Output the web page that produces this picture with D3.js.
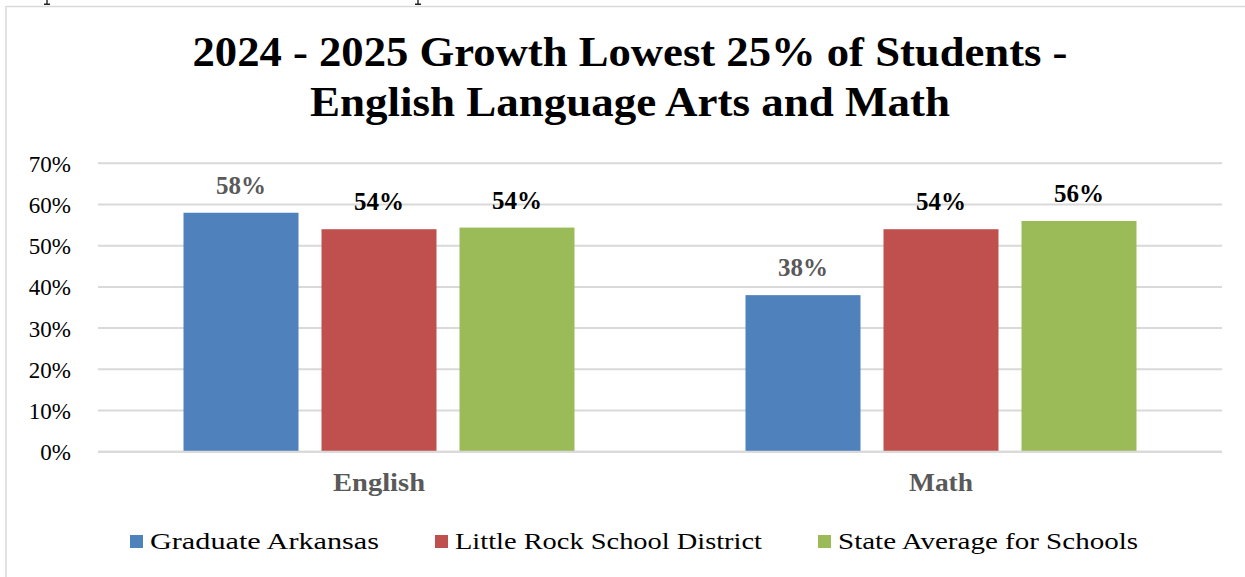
<!DOCTYPE html>
<html>
<head>
<meta charset="utf-8">
<script src="https://cdn.jsdelivr.net/npm/d3@7/dist/d3.min.js"></script>
<style>
  html, body { margin: 0; padding: 0; background: #fff; }
  svg { display: block; }
  text { font-family: "Liberation Serif", "DejaVu Serif", serif; }
</style>
</head>
<body>
<svg id="chart" width="1245" height="577"></svg>
<script>
// Growth of lowest 25% of students, by subject and group
const categories = ["English", "Math"];
const seriesNames = ["Graduate Arkansas", "Little Rock School District", "State Average for Schools"];
const graduateArkansas = [0.58, 0.38];
const littleRock = [0.54, 0.54];
const stateAverage = [0.544, 0.56];
const valueLabels = [["58%", "38%"], ["54%", "54%"], ["54%", "56%"]];
const yTicks = [0, 0.1, 0.2, 0.3, 0.4, 0.5, 0.6, 0.7];
const titleLines = ["2024 - 2025 Growth Lowest 25% of Students -", "English Language Arts and Math"];

const seriesValues = [graduateArkansas, littleRock, stateAverage];
const colors = ["#4f81bd", "#c0504d", "#9bbb59"];
const labelColors = ["#595959", "#000000", "#000000"];

const svg = d3.select("#chart");

// Chart frame
svg.append("path")
  .attr("d", "M6,577 V6.5 H1245")
  .attr("fill", "none")
  .attr("stroke", "#d9d9d9")
  .attr("stroke-width", 1.5);

// Descender stubs of the page line above the frame
[47, 418].forEach(cx => {
  svg.append("path")
    .attr("d", `M${cx},0 V4 M${cx - 3},4.2 H${cx + 3}`)
    .attr("fill", "none")
    .attr("stroke", "#222")
    .attr("stroke-width", 1.4);
});

// Title
const titleWidths = [875, 640];
svg.selectAll("text.title")
  .data(titleLines)
  .join("text")
  .attr("class", "title")
  .attr("x", 630)
  .attr("y", (d, i) => 66 + i * 50)
  .attr("text-anchor", "middle")
  .attr("font-size", 42)
  .attr("font-weight", "bold")
  .attr("fill", "#000")
  .attr("textLength", (d, i) => titleWidths[i])
  .attr("lengthAdjust", "spacingAndGlyphs")
  .text(d => d);

// Scales
const plotLeft = 98, plotRight = 1222;
const y = d3.scaleLinear().domain([0, 0.7]).range([451.7, 163.3]);
const x0 = d3.scaleBand().domain(categories).range([plotLeft, plotRight]);

// Gridlines
svg.append("g")
  .selectAll("line")
  .data(yTicks)
  .join("line")
  .attr("x1", plotLeft)
  .attr("x2", plotRight)
  .attr("y1", d => y(d))
  .attr("y2", d => y(d))
  .attr("stroke", "#d9d9d9")
  .attr("stroke-width", 2);

// Y axis labels
const yAxis = d3.axisLeft(y).tickValues(yTicks).tickFormat(d3.format(".0%")).tickSize(0).tickPadding(0);
const yAxisG = svg.append("g").attr("transform", "translate(71,0)").call(yAxis);
yAxisG.select(".domain").remove();
yAxisG.selectAll("text")
  .attr("font-size", 23)
  .attr("fill", "#000")
  .attr("dy", "0.35em");

// Bars with value labels
const barW = 115, barGap = 23;
const groups = svg.append("g");
seriesValues.forEach((vals, s) => {
  const xs = i => x0(categories[i]) + (x0.bandwidth() - 3 * barW - 2 * barGap) / 2 + s * (barW + barGap);
  groups.append("g")
    .selectAll("rect")
    .data(vals)
    .join("rect")
    .attr("x", (d, i) => xs(i))
    .attr("y", d => y(d))
    .attr("width", barW)
    .attr("height", d => y(0) - y(d))
    .attr("fill", colors[s]);
  groups.append("g")
    .selectAll("text")
    .data(vals)
    .join("text")
    .attr("x", (d, i) => xs(i) + barW / 2)
    .attr("y", d => y(d) - 19)
    .attr("text-anchor", "middle")
    .attr("font-size", 25)
    .attr("font-weight", "bold")
    .attr("fill", labelColors[s])
    .attr("textLength", 50)
    .attr("lengthAdjust", "spacingAndGlyphs")
    .text((d, i) => valueLabels[s][i]);
});

// Baseline
svg.append("line")
  .attr("x1", plotLeft).attr("x2", plotRight)
  .attr("y1", y(0)).attr("y2", y(0))
  .attr("stroke", "#d9d9d9").attr("stroke-width", 2);

// Category labels
const catWidths = [92, 64];
const xAxis = d3.axisBottom(x0).tickSize(0).tickPadding(0);
const xAxisG = svg.append("g").attr("transform", "translate(0,491)").call(xAxis);
xAxisG.select(".domain").remove();
xAxisG.selectAll("text")
  .attr("dy", 0)
  .attr("font-size", 25)
  .attr("font-weight", "bold")
  .attr("fill", "#595959")
  .attr("textLength", (d, i) => catWidths[i])
  .attr("lengthAdjust", "spacingAndGlyphs");

// Legend
const legendX = [130, 435, 818];
const legendW = [229, 307, 300];
const legend = svg.append("g")
  .selectAll("g")
  .data(seriesNames)
  .join("g")
  .attr("transform", (d, i) => `translate(${legendX[i]},0)`);
legend.append("rect")
  .attr("x", 0).attr("y", 535)
  .attr("width", 13).attr("height", 13)
  .attr("fill", (d, i) => colors[i]);
legend.append("text")
  .attr("x", 20).attr("y", 549)
  .attr("font-size", 24)
  .attr("fill", "#000")
  .attr("textLength", (d, i) => legendW[i])
  .attr("lengthAdjust", "spacingAndGlyphs")
  .text(d => d);
</script>
</body>
</html>
